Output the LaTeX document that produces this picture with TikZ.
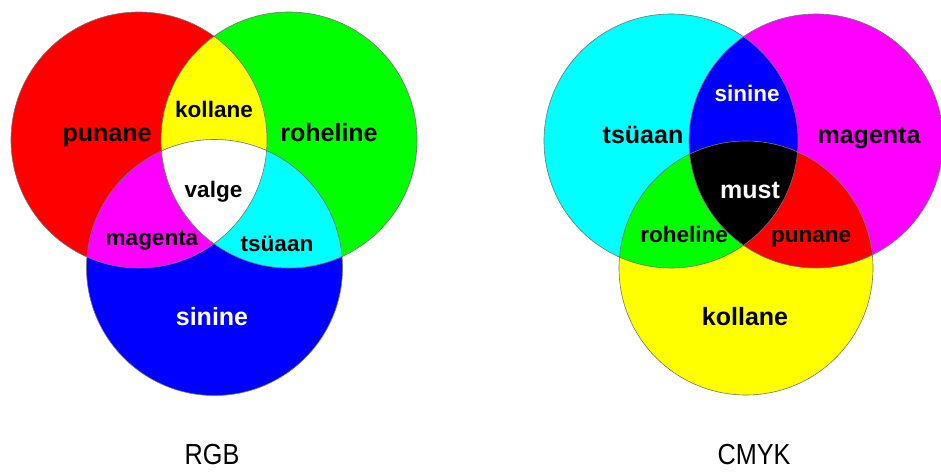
\documentclass[tikz,border=0pt]{standalone}
\usepackage{fontspec}
\usepackage{graphicx}
\setmainfont{Liberation Sans}
\definecolor{cR}{RGB}{255,0,0}
\definecolor{cG}{RGB}{0,255,0}
\definecolor{cB}{RGB}{0,0,255}
\definecolor{cC}{RGB}{0,255,255}
\definecolor{cM}{RGB}{255,0,255}
\definecolor{cY}{RGB}{255,255,0}
\definecolor{cK}{RGB}{0,0,0}
\definecolor{cW}{RGB}{255,255,255}
\tikzset{
  big/.style={font=\bfseries\fontsize{25}{30}\selectfont, inner sep=0pt, anchor=base},
  small/.style={font=\bfseries\fontsize{22.5}{27}\selectfont, inner sep=0pt, anchor=base},
  title/.style={font=\fontsize{29}{34}\selectfont, inner sep=0pt, anchor=base},
  ring/.style={draw=black!55, line width=0.6pt},
}
\begin{document}
\begin{tikzpicture}[x=1pt,y=-1pt]
\useasboundingbox (0,0) rectangle (941,471);
\fill[cW] (0,0) rectangle (941,471);
% ---------- RGB ----------
\coordinate (R) at (139,140);
\coordinate (G) at (289,140);
\coordinate (B) at (214.5,267.5);
\def\rr{128pt}
\fill[cR] (R) circle[radius=\rr];
\fill[cG] (G) circle[radius=\rr];
\fill[cB] (B) circle[radius=\rr];
\begin{scope}\clip (R) circle[radius=\rr]; \fill[cY] (G) circle[radius=\rr];\end{scope}
\begin{scope}\clip (R) circle[radius=\rr]; \fill[cM] (B) circle[radius=\rr];\end{scope}
\begin{scope}\clip (G) circle[radius=\rr]; \fill[cC] (B) circle[radius=\rr];\end{scope}
\begin{scope}\clip (R) circle[radius=\rr]; \clip (G) circle[radius=\rr]; \fill[cW] (B) circle[radius=\rr];\end{scope}
\draw[ring] (R) circle[radius=\rr];
\draw[ring] (G) circle[radius=\rr];
\draw[ring] (B) circle[radius=\rr];
\node[big] (lr) at (107,141) {punane};
\node[big] (lg) at (329,141) {roheline};
\node[big, text=cW] (lb) at (212,325) {sinine};
\node[small] (ly) at (214,117) {kollane};
\node[small] (lw) at (213.5,197) {valge};
\node[small] (lm) at (152,245) {magenta};
\node[small] (lc) at (277,251) {tsüaan};
\node[title] (trgb) at (212,464) {\scalebox{0.87}[1]{RGB}};
% ---------- CMYK ----------
\coordinate (C) at (671,141);
\coordinate (M) at (816,141);
\coordinate (Y) at (746,268);
\def\rc{127pt}
\fill[cC] (C) circle[radius=\rc];
\fill[cM] (M) circle[radius=\rc];
\fill[cY] (Y) circle[radius=\rc];
\begin{scope}\clip (C) circle[radius=\rc]; \fill[cB] (M) circle[radius=\rc];\end{scope}
\begin{scope}\clip (C) circle[radius=\rc]; \fill[cG] (Y) circle[radius=\rc];\end{scope}
\begin{scope}\clip (M) circle[radius=\rc]; \fill[cR] (Y) circle[radius=\rc];\end{scope}
\begin{scope}\clip (C) circle[radius=\rc]; \clip (M) circle[radius=\rc]; \fill[cK] (Y) circle[radius=\rc];\end{scope}
\draw[ring] (C) circle[radius=\rc];
\draw[ring] (M) circle[radius=\rc];
\draw[ring] (Y) circle[radius=\rc];
\node[big] (lcy) at (643,143) {tsüaan};
\node[big] (lma) at (869,143) {magenta};
\node[big] (lye) at (745,325) {kollane};
\node[small, text=cW] (lbl) at (747,101) {sinine};
\node[big, text=cW] (lk) at (750,198) {must};
\node[small] (lgr) at (684,242) {roheline};
\node[small] (lre) at (811,242) {punane};
\node[title] (tcmyk) at (754,464) {\scalebox{0.87}[1]{CMYK}};
\end{tikzpicture}
\end{document}
